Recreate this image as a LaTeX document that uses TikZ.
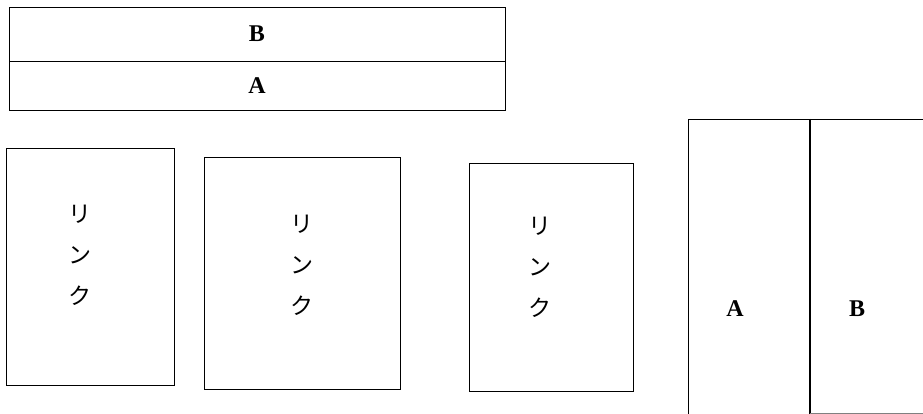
\documentclass[tikz,border=0pt]{standalone}
\usepackage{fontspec}
\setmainfont{Liberation Serif}
\newfontfamily\jpfont{Noto Sans CJK JP}
\usetikzlibrary{positioning}
\tikzset{ %
  ,every node/.style={font=\bfseries\fontsize{24}{26}\selectfont}
  ,band/.style={draw, line width=0.8pt, minimum width=496pt, inner sep=0, outer sep=0}
  ,linkbox/.style={draw, line width=0.8pt, inner sep=0}
  ,kana/.style={font=\jpfont\fontsize{23}{41}\selectfont, align=center, inner sep=0}
}
\begin{document}
\begin{tikzpicture}[x=1pt, y=-1pt]
  \useasboundingbox (0,0) rectangle (923,414);
  % top band
  \node[band, minimum height=54pt] (topB) at (257,34) {B};
  \node[band, minimum height=49pt, below=0pt of topB] (topA) {A};
  % link boxes
  \node[linkbox, minimum width=168pt, minimum height=237pt] (link1) at (90,266.5) {};
  \node[kana] (kana1) at ([xshift=-10pt, yshift=11pt]link1.center) {リ\\ン\\ク};
  \node[linkbox, minimum width=196pt, minimum height=232pt] (link2) at (302,273) {};
  \node[kana] (kana2) at ([yshift=8pt]link2.center) {リ\\ン\\ク};
  \node[linkbox, minimum width=164pt, minimum height=228pt] (link3) at (551,277) {};
  \node[kana] (kana3) at ([xshift=-11pt, yshift=10pt]link3.center) {リ\\ン\\ク};
  % side panel
  \coordinate (sideBL) at (688,414);
  \coordinate (sideTL) at (688,119);
  \coordinate (sideTR) at (925,119);
  \coordinate (midT) at (810,119);
  \coordinate (midB) at (810,414);
  \coordinate (sideBR) at (925,413);
  \draw[line width=0.8pt] (sideBL) -- (sideTL) -- (sideTR);
  \draw[line width=1.1pt] (midT) -- (midB);
  \draw[gray, line width=0.6pt] ([yshift=1pt]midB) -- (sideBR);
  \node (sideA) at (735,309) {A};
  \node (sideB) at (857,309) {B};
\end{tikzpicture}
\end{document}
